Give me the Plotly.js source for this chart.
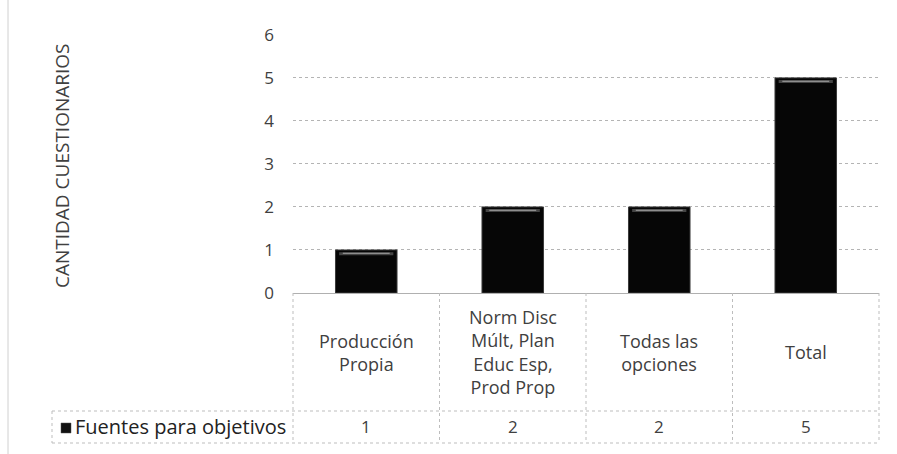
<!DOCTYPE html>
<html>
<head>
<meta charset="utf-8">
<script src="https://cdn.plot.ly/plotly-3.0.1.min.js"></script>
<style>
  html, body { margin: 0; padding: 0; background: #ffffff; }
  #chart { width: 897px; height: 454px; }
</style>
</head>
<body>
<div id="chart"></div>
<script>
// Categories (multi-line labels shown in the data table) and their counts
const categories = ["Producción Propia", "Norm Disc Múlt, Plan Educ Esp, Prod Prop", "Todas las opciones", "Total"];
const categoryLabels = ["Producción<br>Propia", "Norm Disc<br>Múlt, Plan<br>Educ Esp,<br>Prod Prop", "Todas las<br>opciones", "Total"];
const seriesName = "Fuentes para objetivos";
const values = [1, 2, 2, 5];
const yTicks = [0, 1, 2, 3, 4, 5, 6];
const yTitle = "CANTIDAD CUESTIONARIOS";

const W = 897, H = 454;
const M = { l: 293, r: 18, t: 34, b: 161 };
const plotW = W - M.l - M.r, plotH = H - M.t - M.b;
// pixel -> paper helpers for the table drawn beneath the plot
const px = x => (x - M.l) / plotW;
const py = y => (H - M.b - y) / plotH;

const textColor = "#404040";
const fontFam = "'Open Sans', Lato, sans-serif";

const idx = categories.map((_, i) => i);

const bars = {
  type: "bar",
  x: idx,
  y: values,
  width: 0.42,
  name: seriesName,
  marker: { color: "#060606", line: { color: "#3a3a3a", width: 1 } },
  hoverinfo: "y"
};
// soft highlight bands near the top of each bar
const sheen = {
  type: "bar",
  x: idx,
  y: values.map(() => 0.07),
  base: values.map(v => v - 0.12),
  width: 0.37,
  marker: { color: "rgba(120,120,120,0.55)", line: { width: 0 } },
  hoverinfo: "skip"
};
const sheenCore = {
  type: "bar",
  x: idx,
  y: values.map(() => 0.025),
  base: values.map(v => v - 0.09),
  width: 0.32,
  marker: { color: "rgba(190,190,190,0.8)", line: { width: 0 } },
  hoverinfo: "skip"
};

const tableTop = 293, catBottom = 411, valBottom = 443, legendLeft = 52, tableRight = 880;
const colEdges = [0, 1, 2, 3, 4].map(i => M.l + i * plotW / 4);

const lineStyle = { color: "#bdbdbd", width: 1, dash: "dot" };
const shapes = [];
// column separators of the data table
colEdges.forEach(x => shapes.push({
  type: "line", xref: "paper", yref: "paper",
  x0: px(x), x1: px(x), y0: py(tableTop), y1: py(valBottom), line: lineStyle
}));
// row separators
shapes.push({ type: "line", xref: "paper", yref: "paper", x0: px(legendLeft), x1: px(tableRight), y0: py(catBottom), y1: py(catBottom), line: lineStyle });
shapes.push({ type: "line", xref: "paper", yref: "paper", x0: px(legendLeft), x1: px(tableRight), y0: py(valBottom), y1: py(valBottom), line: lineStyle });
shapes.push({ type: "line", xref: "paper", yref: "paper", x0: px(legendLeft), x1: px(legendLeft), y0: py(catBottom), y1: py(valBottom), line: lineStyle });
// legend key square
shapes.push({ type: "rect", xref: "paper", yref: "paper", x0: px(61), x1: px(71), y0: py(433), y1: py(423), fillcolor: "#111111", line: { color: "#555", width: 0.5 } });
// outer chart frame edge
shapes.push({ type: "line", xref: "paper", yref: "paper", x0: px(8), x1: px(8), y0: py(0), y1: py(454), line: { color: "#d0d0d0", width: 1 } });

const rowMid = (catBottom + valBottom) / 2;
const annotations = [];
categoryLabels.forEach((lab, i) => annotations.push({
  xref: "x", yref: "paper", x: i, y: py((tableTop + catBottom) / 2),
  yanchor: "middle", text: lab, showarrow: false, align: "center",
  font: { family: fontFam, size: 18, color: textColor }
}));
values.forEach((v, i) => annotations.push({
  xref: "x", yref: "paper", x: i, y: py(rowMid),
  yanchor: "middle", text: String(v), showarrow: false,
  font: { family: fontFam, size: 17, color: textColor }
}));
annotations.push({
  xref: "paper", yref: "paper", x: px(73), y: py(rowMid - 1),
  xanchor: "left", yanchor: "middle", text: seriesName, showarrow: false,
  font: { family: fontFam, size: 20, color: "#222" }
});
annotations.push({
  xref: "paper", yref: "paper", x: px(62), y: py(166),
  xanchor: "center", yanchor: "middle",
  text: yTitle, textangle: -90, showarrow: false,
  font: { family: fontFam, size: 19, color: textColor }
});

const layout = {
  width: W, height: H,
  margin: M,
  paper_bgcolor: "#ffffff",
  plot_bgcolor: "#ffffff",
  showlegend: false,
  barmode: "overlay",
  xaxis: {
    range: [-0.5, 3.5], showticklabels: false, showgrid: false,
    zeroline: false, showline: false, ticks: "", fixedrange: true
  },
  yaxis: {
    range: [0, 6.02], tickvals: yTicks, ticktext: yTicks.map(String),
    showgrid: true, gridcolor: "#b4b4b4", griddash: "dot", gridwidth: 1,
    zeroline: true, zerolinecolor: "#b0b0b0", zerolinewidth: 1,
    showline: false, ticks: "", ticklabelstandoff: 18,
    tickfont: { family: fontFam, size: 17, color: textColor }
  },
  shapes: shapes,
  annotations: annotations
};

Plotly.newPlot("chart", [bars, sheen, sheenCore], layout, { displayModeBar: false, staticPlot: true });
</script>
</body>
</html>
